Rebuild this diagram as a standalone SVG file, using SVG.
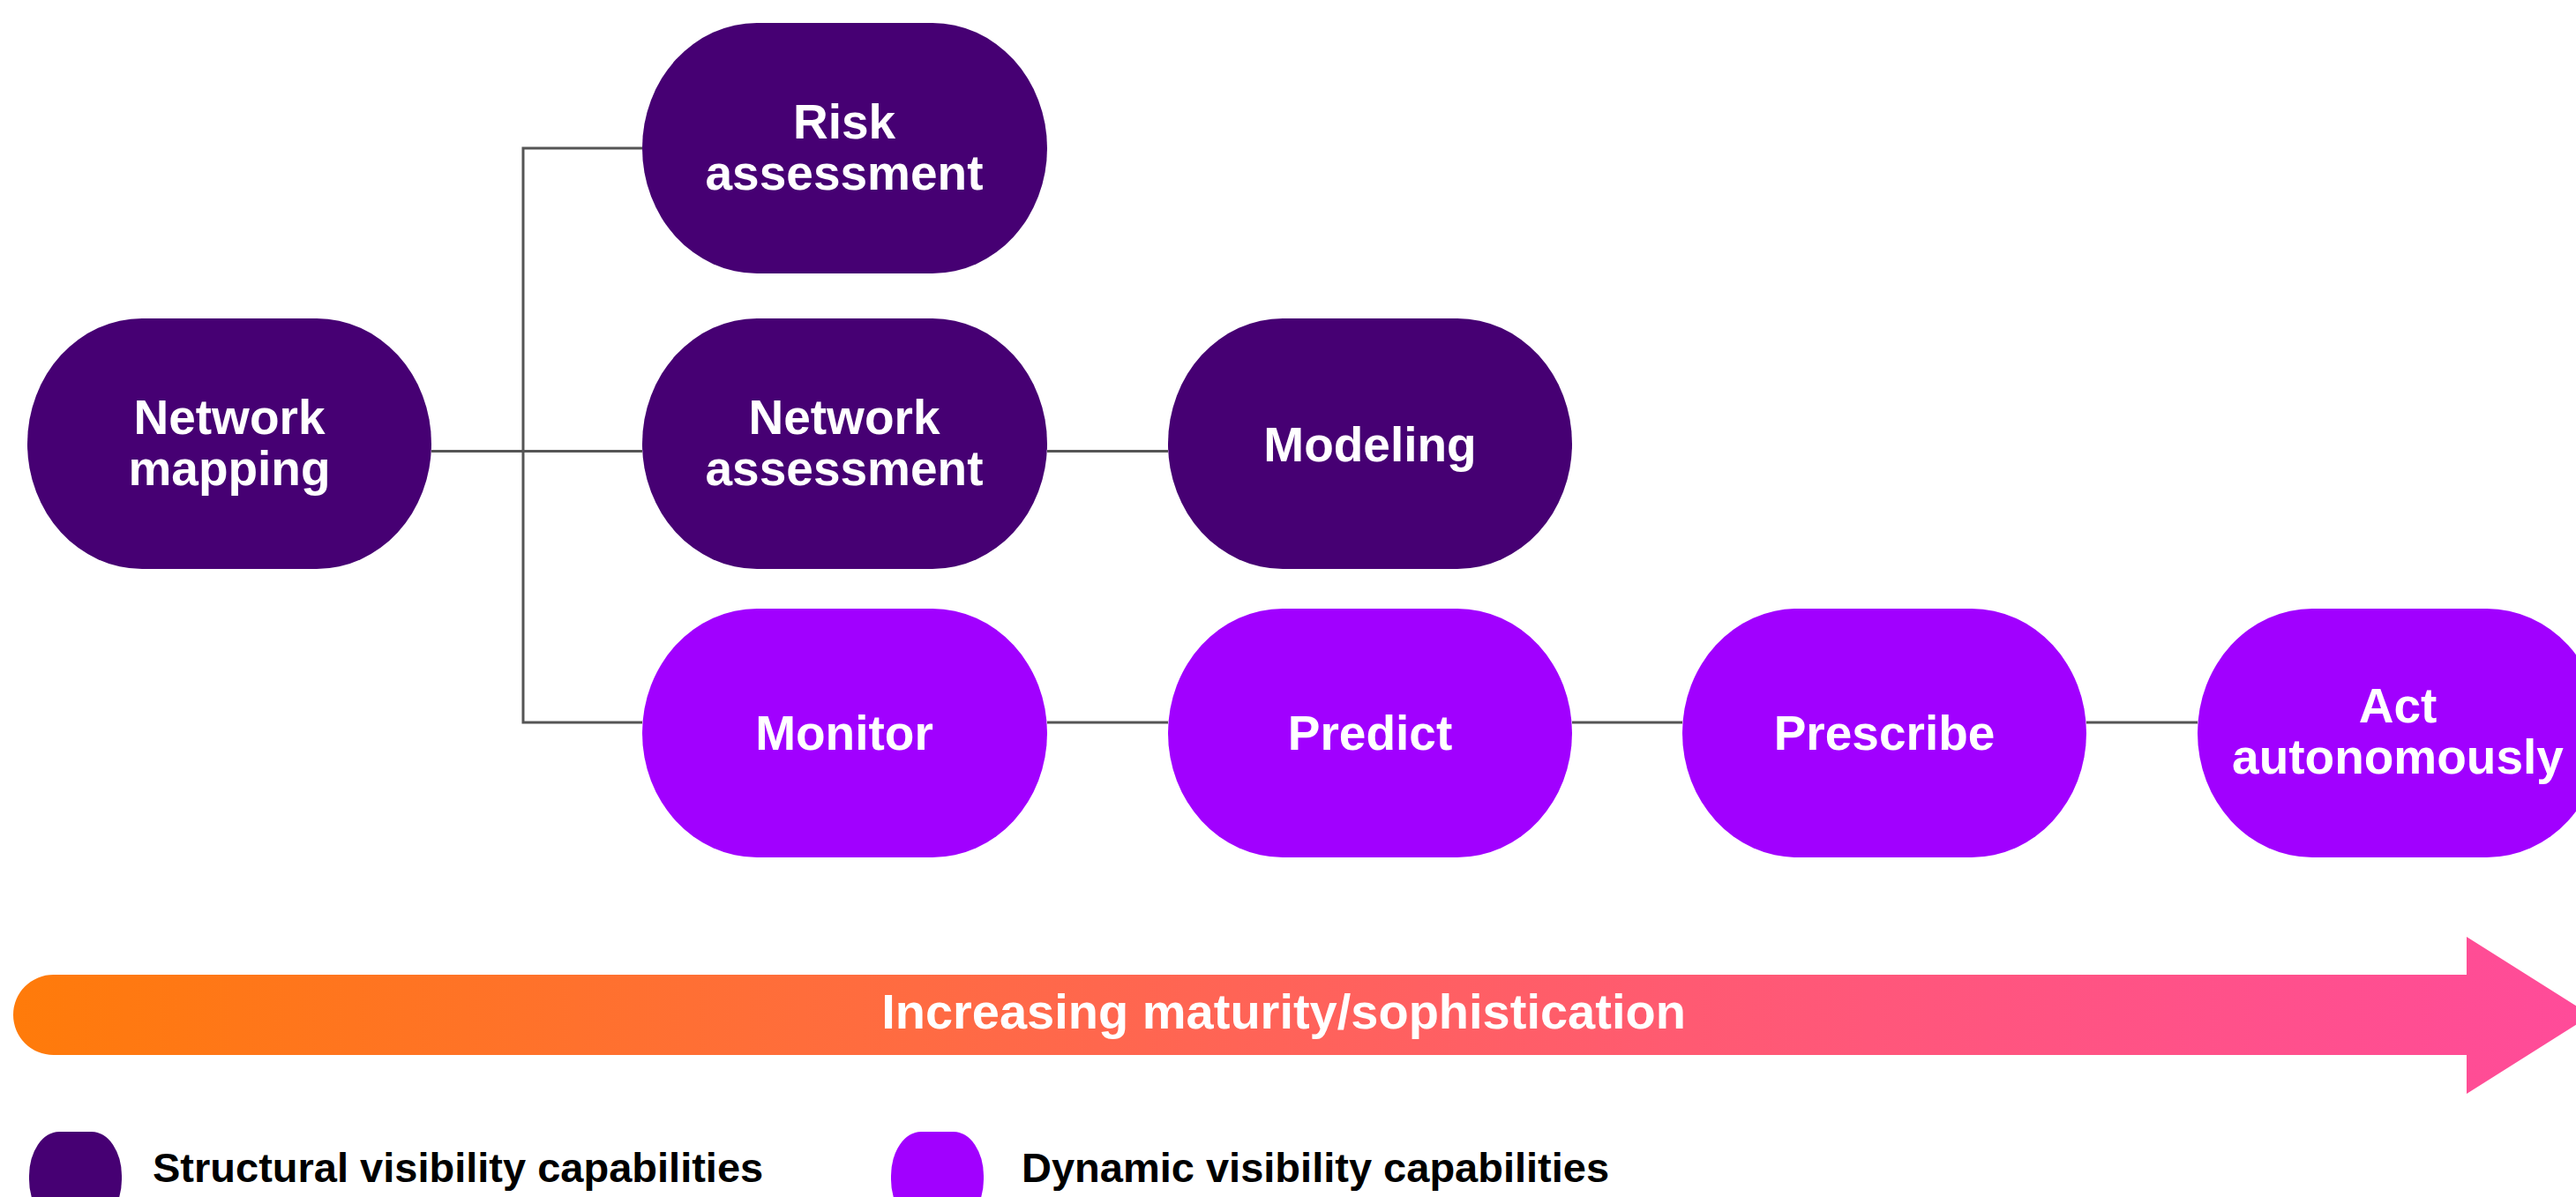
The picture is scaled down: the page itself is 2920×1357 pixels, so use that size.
<svg xmlns="http://www.w3.org/2000/svg" width="2920" height="1357" viewBox="0 0 2920 1357">
  <defs>
    <linearGradient id="matGrad" gradientUnits="userSpaceOnUse" x1="15" y1="0" x2="2937" y2="0">
      <stop offset="0" stop-color="#FF7B0A"/>
      <stop offset="0.35" stop-color="#FF6B42"/>
      <stop offset="0.65" stop-color="#FF5A72"/>
      <stop offset="1" stop-color="#FF4B9A"/>
    </linearGradient>
  </defs>
  <style>
    .structural { fill: #460073; }
    .dynamic { fill: #A100FF; }
    .node-label { font-family: "Liberation Sans", Arial, sans-serif; font-weight: bold; font-size: 55px; fill: #FFFFFF; text-anchor: middle; }
    .connector { stroke: #555555; stroke-width: 3; fill: none; }
    .bar-label { font-family: "Liberation Sans", Arial, sans-serif; font-weight: bold; font-size: 56px; fill: #FFFFFF; text-anchor: middle; }
    .legend-label { font-family: "Liberation Sans", Arial, sans-serif; font-weight: bold; font-size: 47px; fill: #000000; }
  </style>
  <rect x="0" y="0" width="2920" height="1357" fill="#FFFFFF"/>

  <g id="connectors">
    <path class="connector" d="M 489 511.5 H 728"/>
    <path class="connector" d="M 728 168 H 593 V 819 H 728"/>
    <path class="connector" d="M 1187 511.5 H 1324"/>
    <path class="connector" d="M 1187 819 H 1324"/>
    <path class="connector" d="M 1782 819 H 1907"/>
    <path class="connector" d="M 2365 819 H 2491"/>
  </g>

  <g id="node-network-mapping">
    <rect class="structural" x="31" y="361" width="458" height="284" rx="130" ry="142"/>
    <text class="node-label" x="260" y="492">Network</text>
    <text class="node-label" x="260" y="550">mapping</text>
  </g>
  <g id="node-risk-assessment">
    <rect class="structural" x="728" y="26" width="459" height="284" rx="130" ry="142"/>
    <text class="node-label" x="957" y="157">Risk</text>
    <text class="node-label" x="957" y="215">assessment</text>
  </g>
  <g id="node-network-assessment">
    <rect class="structural" x="728" y="361" width="459" height="284" rx="130" ry="142"/>
    <text class="node-label" x="957" y="492">Network</text>
    <text class="node-label" x="957" y="550">assessment</text>
  </g>
  <g id="node-modeling">
    <rect class="structural" x="1324" y="361" width="458" height="284" rx="130" ry="142"/>
    <text class="node-label" x="1553" y="523">Modeling</text>
  </g>
  <g id="node-monitor">
    <rect class="dynamic" x="728" y="690" width="459" height="282" rx="130" ry="141"/>
    <text class="node-label" x="957" y="850">Monitor</text>
  </g>
  <g id="node-predict">
    <rect class="dynamic" x="1324" y="690" width="458" height="282" rx="130" ry="141"/>
    <text class="node-label" x="1553" y="850">Predict</text>
  </g>
  <g id="node-prescribe">
    <rect class="dynamic" x="1907" y="690" width="458" height="282" rx="130" ry="141"/>
    <text class="node-label" x="2136" y="850">Prescribe</text>
  </g>
  <g id="node-act-autonomously">
    <rect class="dynamic" x="2491" y="690" width="458" height="282" rx="130" ry="141"/>
    <text class="node-label" x="2718" y="819">Act</text>
    <text class="node-label" x="2718" y="877">autonomously</text>
  </g>

  <g id="maturity-arrow">
    <path fill="url(#matGrad)" d="M 60.5 1105 H 2796 V 1062 L 2937 1151 L 2796 1240 V 1196 H 60.5 A 45.5 45.5 0 0 1 60.5 1105 Z"/>
    <text class="bar-label" x="1455" y="1166">Increasing maturity/sophistication</text>
  </g>

  <g id="legend-structural">
    <rect class="structural" x="33" y="1283" width="105" height="104" rx="34" ry="50"/>
    <text class="legend-label" x="173" y="1340">Structural visibility capabilities</text>
  </g>
  <g id="legend-dynamic">
    <rect class="dynamic" x="1010" y="1283" width="105" height="104" rx="34" ry="50"/>
    <text class="legend-label" x="1158" y="1340">Dynamic visibility capabilities</text>
  </g>
</svg>
